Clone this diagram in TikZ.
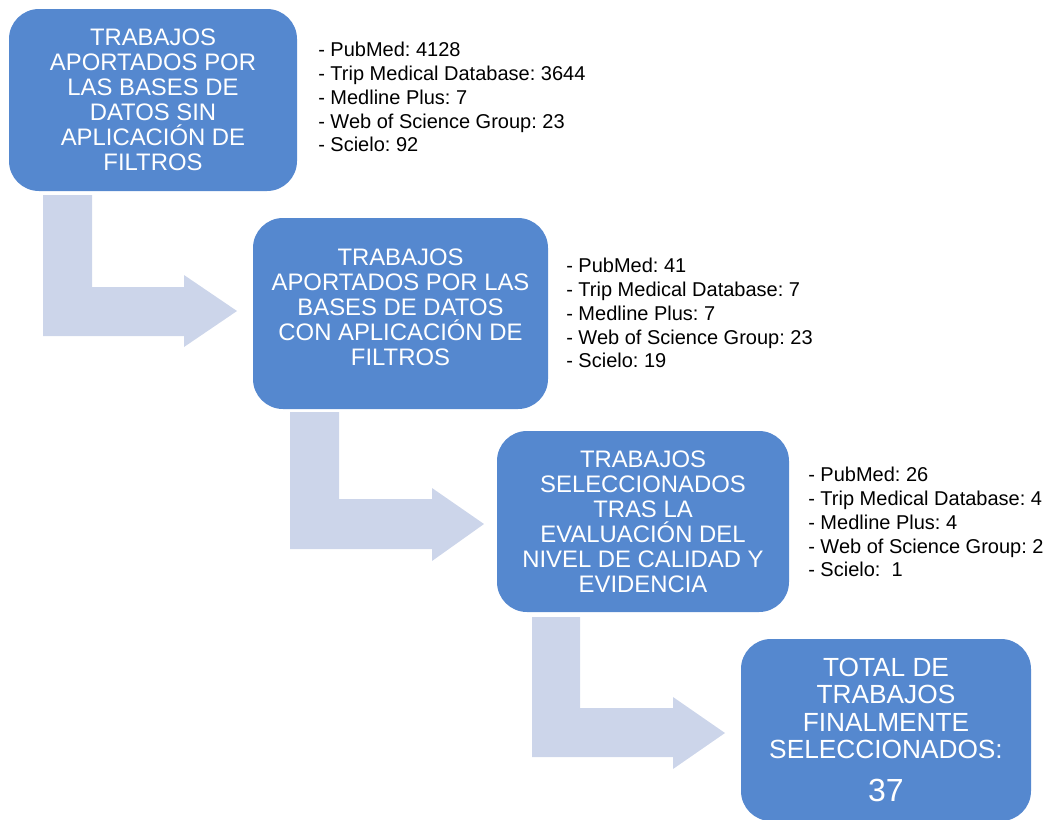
\documentclass[tikz,border=0pt]{standalone}
\usepackage{fontspec}
\setmainfont{Liberation Sans}
\frenchspacing
\definecolor{boxblue}{HTML}{5588CF}
\definecolor{arrowgray}{HTML}{CCD5EA}
\begin{document}
\begin{tikzpicture}[x=0.75pt,y=-0.75pt,
  boxtext/.style={text=white, align=center, inner sep=0pt,
    font=\fontsize{17.9pt}{18.75pt}\selectfont},
  stagebox/.style={fill=boxblue, draw=none, rounded corners=22.5pt, boxtext},
  listtext/.style={anchor=north west, align=left, inner sep=0pt, text=black,
    font=\fontsize{15pt}{17.85pt}\selectfont},
  bentarrow/.style={fill=arrowgray, draw=none}]
\useasboundingbox (0,0) rectangle (1051,819);
% bent arrows
\fill[bentarrow] (43,195) -- (92,195) -- (92,287) -- (184,287) -- (184,275) -- (237,311) -- (184,347) -- (184,336) -- (43,336) -- cycle;
\fill[bentarrow] (290,412) -- (339,412) -- (339,499) -- (432,499) -- (432,488) -- (484,524) -- (432,561) -- (432,549) -- (290,549) -- cycle;
\fill[bentarrow] (532,617) -- (580,617) -- (580,708) -- (673,708) -- (673,697) -- (725,733) -- (673,769) -- (673,757) -- (532,757) -- cycle;
% boxes
\node[stagebox, minimum width=216pt, minimum height=136.5pt] (b1) at (153,100)
  {TRABAJOS\\APORTADOS POR\\LAS BASES DE\\DATOS SIN\\APLICACIÓN DE\\FILTROS};
\node[stagebox, minimum width=221.25pt, minimum height=143.25pt,
  label={[boxtext, yshift=4.5pt]center:TRABAJOS\\APORTADOS POR LAS\\BASES DE DATOS\\CON APLICACIÓN DE\\FILTROS}] (b2) at (400.5,313.5) {};
\node[stagebox, minimum width=219pt, minimum height=135.75pt] (b3) at (643,521.5)
  {TRABAJOS\\SELECCIONADOS\\TRAS LA\\EVALUACIÓN DEL\\NIVEL DE CALIDAD Y\\EVIDENCIA};
\node[stagebox, minimum width=217.5pt, minimum height=136.5pt,
  font=\fontsize{19.7pt}{20.6pt}\selectfont] (b4) at (886,730)
  {TOTAL DE\\TRABAJOS\\FINALMENTE\\SELECCIONADOS:\\[12pt]{\fontsize{24pt}{24pt}\selectfont 37}};
% lists
\node[listtext] (l1) at (318,42)
  {- PubMed: 4128\\- Trip Medical Database: 3644\\- Medline Plus: 7\\- Web of Science Group: 23\\- Scielo: 92};
\node[listtext] (l2) at (566,258)
  {- PubMed: 41\\- Trip Medical Database: 7\\- Medline Plus: 7\\- Web of Science Group: 23\\- Scielo: 19};
\node[listtext] (l3) at (808,467)
  {- PubMed: 26\\- Trip Medical Database: 4\\- Medline Plus: 4\\- Web of Science Group: 2\\- Scielo:~ 1};
\end{tikzpicture}
\end{document}
